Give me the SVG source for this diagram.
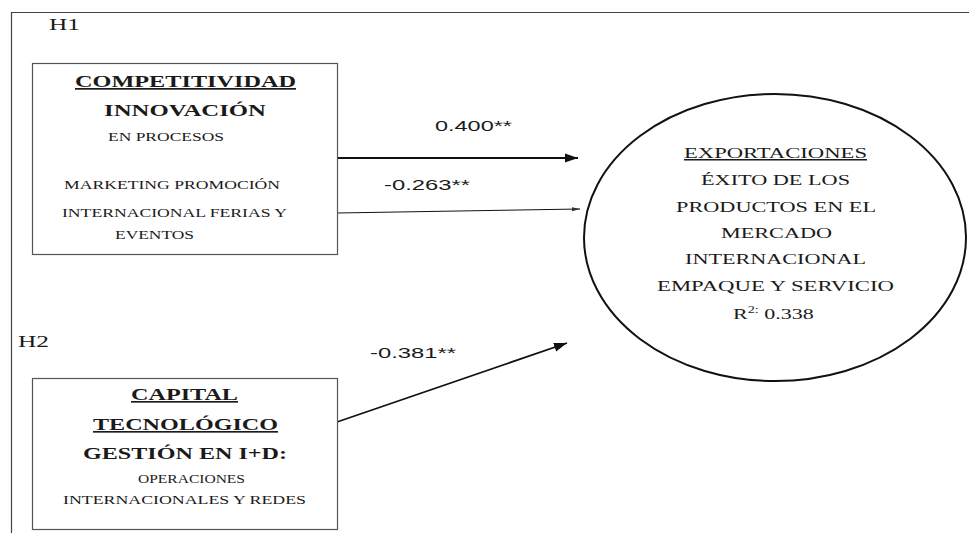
<svg xmlns="http://www.w3.org/2000/svg" width="969" height="533" viewBox="0 0 969 533">
  <style>
    .t { font-family: "Liberation Serif", "Times New Roman", serif; fill: #1a1a1a; }
    .b { font-weight: bold; }
    .u { text-decoration: underline; }
    .lbl { font-family: "Liberation Sans", Arial, sans-serif; font-size: 15px; fill: #1a1a1a; }
    .box { fill: #ffffff; stroke: #555555; stroke-width: 1.2; }
    .conn { fill: none; stroke: #111111; }
  </style>
  <defs>
    <marker id="headBig" markerUnits="userSpaceOnUse" markerWidth="14" markerHeight="10" refX="13" refY="5" orient="auto">
      <path d="M0,0.5 L13,5 L0,9.5 Z" fill="#111111"/>
    </marker>
    <marker id="headSmall" markerUnits="userSpaceOnUse" markerWidth="9" markerHeight="6" refX="8" refY="3" orient="auto">
      <path d="M0,1 L8,3 L0,5 Z" fill="#333333"/>
    </marker>
  </defs>
  <rect width="969" height="533" fill="#ffffff"/>

  <!-- frame lines -->
  <path d="M11.5,533 L11.5,12.5 L969,12.5" fill="none" stroke="#444444" stroke-width="1.2"/>

  <text class="t" x="49" y="30" font-size="16" textLength="31" lengthAdjust="spacingAndGlyphs">H1</text>
  <text class="t" x="18" y="347" font-size="16" textLength="31" lengthAdjust="spacingAndGlyphs">H2</text>

  <!-- connectors -->
  <g id="connectors">
    <line class="conn" x1="337" y1="158" x2="578" y2="158" stroke-width="2" marker-end="url(#headBig)"/>
    <line class="conn" x1="337" y1="213" x2="580" y2="209" stroke-width="1" stroke="#555555" marker-end="url(#headSmall)"/>
    <line class="conn" x1="337" y1="422" x2="567" y2="343" stroke-width="1.8" marker-end="url(#headBig)"/>
    <text class="lbl" x="435" y="131" textLength="77" lengthAdjust="spacingAndGlyphs">0.400**</text>
    <text class="lbl" x="384" y="190" textLength="86" lengthAdjust="spacingAndGlyphs">-0.263**</text>
    <text class="lbl" x="370" y="358" textLength="86" lengthAdjust="spacingAndGlyphs">-0.381**</text>
  </g>

  <g id="competitividad">
    <rect class="box" x="32.5" y="63.5" width="305" height="191"/>
    <text class="t b u" x="75" y="87" font-size="17" textLength="221" lengthAdjust="spacingAndGlyphs">COMPETITIVIDAD</text>
    <text class="t b" x="104" y="116" font-size="17" textLength="162" lengthAdjust="spacingAndGlyphs">INNOVACIÓN</text>
    <text class="t" x="108" y="141" font-size="12.5" textLength="116" lengthAdjust="spacingAndGlyphs">EN PROCESOS</text>
    <text class="t" x="64" y="189" font-size="12.5" textLength="216" lengthAdjust="spacingAndGlyphs">MARKETING PROMOCIÓN</text>
    <text class="t" x="62" y="217" font-size="12.5" textLength="225" lengthAdjust="spacingAndGlyphs">INTERNACIONAL FERIAS Y</text>
    <text class="t" x="115" y="239" font-size="12.5" textLength="79" lengthAdjust="spacingAndGlyphs">EVENTOS</text>
  </g>

  <g id="capital">
    <rect class="box" x="32.5" y="378.5" width="305" height="151"/>
    <text class="t b u" x="131" y="400" font-size="16.5" textLength="107" lengthAdjust="spacingAndGlyphs">CAPITAL</text>
    <text class="t b u" x="93" y="430" font-size="16.5" textLength="185" lengthAdjust="spacingAndGlyphs">TECNOLÓGICO</text>
    <text class="t b" x="83" y="459" font-size="16.5" textLength="204" lengthAdjust="spacingAndGlyphs">GESTIÓN EN I+D:</text>
    <text class="t" x="138" y="483" font-size="12.5" textLength="107" lengthAdjust="spacingAndGlyphs">OPERACIONES</text>
    <text class="t" x="63" y="504" font-size="12.5" textLength="243" lengthAdjust="spacingAndGlyphs">INTERNACIONALES Y REDES</text>
  </g>

  <g id="exportaciones">
    <ellipse cx="775" cy="237.5" rx="191" ry="143.5" fill="#ffffff" stroke="#111111" stroke-width="2"/>
    <text class="t u" x="684" y="158" font-size="15" textLength="183" lengthAdjust="spacingAndGlyphs">EXPORTACIONES</text>
    <text class="t" x="701" y="185" font-size="15" textLength="149" lengthAdjust="spacingAndGlyphs">ÉXITO DE LOS</text>
    <text class="t" x="676" y="212" font-size="15" textLength="200" lengthAdjust="spacingAndGlyphs">PRODUCTOS EN EL</text>
    <text class="t" x="721" y="238" font-size="15" textLength="111" lengthAdjust="spacingAndGlyphs">MERCADO</text>
    <text class="t" x="685" y="264" font-size="15" textLength="181" lengthAdjust="spacingAndGlyphs">INTERNACIONAL</text>
    <text class="t" x="657" y="291" font-size="15" textLength="237" lengthAdjust="spacingAndGlyphs">EMPAQUE Y SERVICIO</text>
    <g transform="translate(733,319) scale(1.42,1)">
      <text class="t" x="0" y="0" font-size="15.5">R<tspan font-size="10" dy="-6">2:</tspan><tspan dy="6"> 0.338</tspan></text>
    </g>
  </g>
</svg>
